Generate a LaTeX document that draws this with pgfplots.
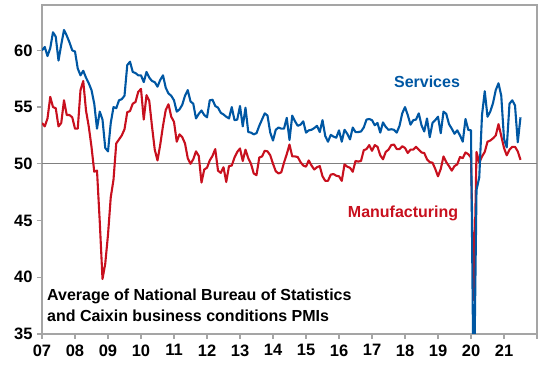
\documentclass[border=0pt]{standalone}
\usepackage{fontspec}
\setmainfont{Liberation Sans}
\usepackage{pgfplots}
\pgfplotsset{compat=1.18}
\usepackage{pgfplotstable}
\definecolor{svc}{RGB}{0,87,163}
\definecolor{mfg}{RGB}{200,16,30}
\definecolor{axgray}{RGB}{165,165,165}
\definecolor{refgray}{RGB}{128,128,128}

% month index 0 = Jan 2007
\pgfplotstableread{
i v
0 60.0
1 60.3
2 59.5
3 60.2
4 61.6
5 61.2
6 59.1
7 60.5
8 61.8
9 61.3
10 60.7
11 60.0
12 59.9
13 58.4
14 57.8
15 58.2
16 57.6
17 57.1
18 56.5
19 55.3
20 53.1
21 54.6
22 53.9
23 51.4
24 51.1
25 53.6
26 55.0
27 54.9
28 55.6
29 55.7
30 56.0
31 58.7
32 59.0
33 58.1
34 58.0
35 57.8
36 57.8
37 57.2
38 58.1
39 57.6
40 57.3
41 57.2
42 56.8
43 57.4
44 57.8
45 56.7
46 56.2
47 56.0
48 55.6
49 54.6
50 54.8
51 55.2
52 56.0
53 56.5
54 55.5
55 55.3
56 54.0
57 54.4
58 54.7
59 54.3
60 54.1
61 55.6
62 55.65
63 55.1
64 54.95
65 54.5
66 54.35
67 54.15
68 54.0
69 55.0
70 53.85
71 53.9
72 55.1
73 53.3
74 54.95
75 52.8
76 52.75
77 52.6
78 52.7
79 53.35
80 53.9
81 54.45
82 54.25
83 52.75
84 52.05
85 53.0
86 53.2
87 53.1
88 53.1
89 54.05
90 52.1
91 54.25
92 53.75
93 53.35
94 53.45
95 53.75
96 52.75
97 52.95
98 53.0
99 53.15
100 53.35
101 52.8
102 53.85
103 52.45
104 51.95
105 52.55
106 52.4
107 52.3
108 52.95
109 51.95
110 53.0
111 52.65
112 52.15
113 53.2
114 52.8
115 52.8
116 52.85
117 53.2
118 53.9
119 53.95
120 53.85
121 53.4
122 53.6
123 52.75
124 53.65
125 53.25
126 53.0
127 53.05
128 53.0
129 52.75
130 53.35
131 54.45
132 55.0
133 54.3
134 53.45
135 53.85
136 53.9
137 54.45
138 53.4
139 52.85
140 54.0
141 52.35
142 53.6
143 53.85
144 54.15
145 52.7
146 54.6
147 54.4
148 53.5
149 53.1
150 52.65
151 52.95
152 52.5
153 51.95
154 53.95
155 53.0
156 52.95
157 28.05
158 47.7
159 48.8
160 54.3
161 56.4
162 54.15
163 54.6
164 55.35
165 56.5
166 57.1
167 56.0
168 52.2
169 51.45
170 55.3
171 55.6
172 55.15
173 51.9
174 54.1
}\services

\pgfplotstableread{
i v
0 53.6
1 53.3
2 54.0
3 55.9
4 55.0
5 54.9
6 53.3
7 53.6
8 55.6
9 54.3
10 54.3
11 54.1
12 53.1
13 53.1
14 56.5
15 57.3
16 54.7
17 53.3
18 51.5
19 49.3
20 49.4
21 44.9
22 39.85
23 41.2
24 43.75
25 47.05
26 48.6
27 51.8
28 52.15
29 52.5
30 53.05
31 54.55
32 54.65
33 55.3
34 55.45
35 56.35
36 56.6
37 53.9
38 56.05
39 55.55
40 53.3
41 51.25
42 50.3
43 51.7
44 53.35
45 54.75
46 55.25
47 54.15
48 53.7
49 51.95
50 52.6
51 52.35
52 51.8
53 50.5
54 50.0
55 50.4
56 51.1
57 50.7
58 48.35
59 49.5
60 49.65
61 50.3
62 50.7
63 51.3
64 49.4
65 49.2
66 49.7
67 48.4
68 49.8
69 49.85
70 50.55
71 51.05
72 51.35
73 50.25
74 51.25
75 50.5
76 50.0
77 49.15
78 49.0
79 50.55
80 50.65
81 51.15
82 51.1
83 50.75
84 50.0
85 49.35
86 49.15
87 49.25
88 50.1
89 50.85
90 51.7
91 50.65
92 50.65
93 50.6
94 50.15
95 49.85
96 49.75
97 50.3
98 49.85
99 49.5
100 49.7
101 49.8
102 48.9
103 48.5
104 48.5
105 49.05
106 49.1
107 48.95
108 48.9
109 48.5
110 49.95
111 49.75
112 49.65
113 49.3
114 50.25
115 50.2
116 50.25
117 51.2
118 51.3
119 51.65
120 51.15
121 51.65
122 51.5
123 50.75
124 50.4
125 51.05
126 51.25
127 51.65
128 51.7
129 51.3
130 51.3
131 51.55
132 51.4
133 50.95
134 51.25
135 51.25
136 51.5
137 51.25
138 51.0
139 50.95
140 50.4
141 50.15
142 50.1
143 49.55
144 48.9
145 49.55
146 50.65
147 50.15
148 49.8
149 49.4
150 49.8
151 49.95
152 50.6
153 50.5
154 51.0
155 50.85
156 50.55
157 38.0
158 51.05
159 50.1
160 50.65
161 51.05
162 51.95
163 52.05
164 52.25
165 52.5
166 53.5
167 52.45
168 51.4
169 50.75
170 51.25
171 51.5
172 51.5
173 51.1
174 50.35
}\manufacturing

\begin{document}
\begin{tikzpicture}
\begin{axis}[
  width=495pt, height=329pt, scale only axis,
  xmin=0, xmax=180, ymin=35, ymax=64,
  xtick={0,12,24,36,48,60,72,84,96,108,120,132,144,156,168,180},
  xticklabels={07,08,09,10,11,12,13,14,15,16,17,18,19,20,21,{}},
  ytick={35,40,45,50,55,60},
  tick pos=left,
  tick align=outside,
  major tick length=5pt,
  axis line style={axgray, line width=1.2pt},
  tick style={axgray, line width=1.2pt},
  ticklabel style={font=\fontsize{16.5}{18}\selectfont\bfseries, text=black},
  /pgf/number format/assume math mode=true,
  xticklabel style={yshift=-2pt},
  yticklabel style={xshift=-1pt},
  clip=true,
]
\coordinate (bl) at (rel axis cs:0,0);
\coordinate (tr) at (rel axis cs:1,1);
\addplot[refgray, line width=0.8pt, forget plot] coordinates {(0,50) (180,50)};
\addplot[mfg, line width=2.1pt, line join=round] table[x=i, y=v] {\manufacturing};
\addplot[svc, line width=2.1pt, line join=round] table[x=i, y=v] {\services};
\node[font=\fontsize{16}{18}\selectfont\bfseries, text=svc] at (axis cs:140,57.2) {Services};
\node[font=\fontsize{16}{18}\selectfont\bfseries, text=mfg] at (axis cs:131.3,45.65) {Manufacturing};
\node[font=\fontsize{16}{21}\selectfont\bfseries, align=left, anchor=west, inner sep=0pt] at (axis cs:1.8,37.55)
  {Average of National Bureau of Statistics\\and Caixin business conditions PMIs};
\end{axis}
\pgfresetboundingbox
\path[use as bounding box] ([xshift=-42pt,yshift=-32pt]bl) rectangle ([xshift=11pt,yshift=5pt]tr);
\end{tikzpicture}
\end{document}
